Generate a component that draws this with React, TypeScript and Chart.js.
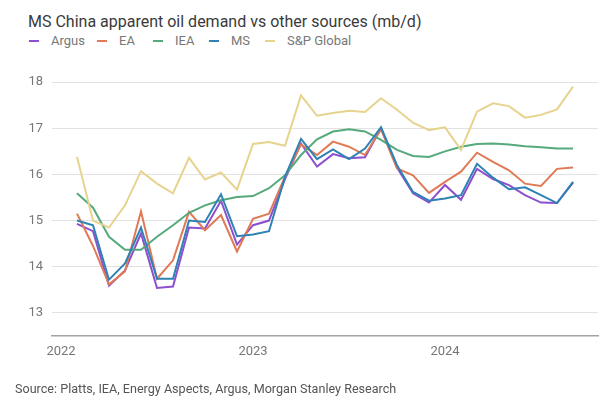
import React, { useEffect, useRef } from 'react';
import { Chart, registerables } from 'chart.js';

Chart.register(...registerables);

// Monthly observations (year-month)
const months = [
  '2022-02', '2022-03', '2022-04', '2022-05', '2022-06', '2022-07', '2022-08', '2022-09',
  '2022-10', '2022-11', '2022-12', '2023-01', '2023-02', '2023-03', '2023-04', '2023-05',
  '2023-06', '2023-07', '2023-08', '2023-09', '2023-10', '2023-11', '2023-12', '2024-01',
  '2024-02', '2024-03', '2024-04', '2024-05', '2024-06', '2024-07', '2024-08', '2024-09',
];

const argus = [
  14.93, 14.77, 13.59, 13.92, 14.72, 13.54, 13.57, 14.85,
  14.83, 15.43, 14.48, 14.9, 15.0, 15.9, 16.67, 16.17,
  16.44, 16.35, 16.37, 17.0, 16.15, 15.59, 15.39, 15.77,
  15.45, 16.12, 15.9, 15.77, 15.55, 15.39, 15.38, 15.82,
];

const ea = [
  15.15, 14.45, 13.62, 13.9, 15.2, 13.74, 14.14, 15.19,
  14.79, 15.12, 14.33, 15.04, 15.15, 15.95, 16.65, 16.42,
  16.71, 16.6, 16.42, 16.98, 16.13, 15.98, 15.6, 15.84,
  16.06, 16.47, 16.27, 16.09, 15.8, 15.75, 16.12, 16.15,
];

const iea = [
  15.59, 15.28, 14.65, 14.37, 14.37, 14.65, 14.9, 15.17,
  15.33, 15.44, 15.51, 15.53, 15.7, 15.98, 16.42, 16.76,
  16.93, 16.98, 16.93, 16.75, 16.53, 16.4, 16.38, 16.5,
  16.6, 16.66, 16.67, 16.65, 16.61, 16.59, 16.56, 16.56,
];

const ms = [
  15.0, 14.9, 13.72, 14.07, 14.85, 13.74, 13.74, 15.0,
  14.97, 15.57, 14.66, 14.7, 14.77, 15.95, 16.77, 16.33,
  16.54, 16.33, 16.56, 17.02, 16.2, 15.62, 15.43, 15.48,
  15.55, 16.23, 15.93, 15.68, 15.72, 15.55, 15.38, 15.84,
];

const spGlobal = [
  16.38, 15.0, 14.85, 15.33, 16.07, 15.8, 15.59, 16.36,
  15.89, 16.04, 15.67, 16.66, 16.7, 16.62, 17.71, 17.27,
  17.33, 17.38, 17.35, 17.65, 17.4, 17.12, 16.96, 17.02,
  16.53, 17.36, 17.54, 17.48, 17.23, 17.29, 17.41, 17.9,
];

const seriesNames = ['Argus', 'EA', 'IEA', 'MS', 'S&P Global'];
const seriesColors = ['#8e4fcf', '#e07a56', '#55a97c', '#2e82b4', '#e6d38e'];
const yearTickLabels = ['2022', '2023', '2024'];
const yTickValues = [13, 14, 15, 16, 17, 18];

const TITLE = 'MS China apparent oil demand vs other sources (mb/d)';
const SOURCE = 'Source: Platts, IEA, Energy Aspects, Argus, Morgan Stanley Research';

const BASE_YEAR = 2022;
const monthPos = (m: string) => {
  const [y, mo] = m.split('-').map(Number);
  return (y - BASE_YEAR) * 12 + (mo - 1);
};

const legendX = [29, 97, 153, 209, 265];

export default function App() {
  const ref = useRef<HTMLCanvasElement>(null);

  useEffect(() => {
    const values = [argus, ea, iea, ms, spGlobal];
    const datasets = values.map((vals, k) => ({
      label: seriesNames[k],
      data: months.map((m, i) => ({ x: monthPos(m), y: vals[i] })),
      borderColor: seriesColors[k],
      backgroundColor: seriesColors[k],
      borderWidth: 2,
      pointRadius: 0,
      pointHoverRadius: 0,
      tension: 0,
      order: values.length - k,
    }));

    const tickFont = { family: 'Roboto', size: 13 };
    const chart = new Chart(ref.current!, {
      type: 'line',
      data: { datasets },
      options: {
        animation: false,
        responsive: false,
        maintainAspectRatio: false,
        layout: { padding: { left: 0, right: 13, top: 59, bottom: 0 } },
        plugins: {
          legend: { display: false },
          title: { display: false },
          tooltip: { enabled: false },
        },
        scales: {
          x: {
            type: 'linear',
            min: -0.5625,
            max: 33.5625,
            grid: { display: false, drawTicks: false },
            border: { display: true, color: '#a3a3a3', width: 1.5 },
            afterBuildTicks: (s: any) => {
              s.ticks = yearTickLabels.map((t) => ({ value: (Number(t) - BASE_YEAR) * 12 }));
            },
            ticks: {
              color: '#777777',
              font: tickFont,
              padding: 8,
              maxRotation: 0,
              autoSkip: false,
              callback: (v: any) => String(BASE_YEAR + Math.round(Number(v) / 12)),
            },
            afterFit: (s: any) => {
              s.height = 80;
            },
          },
          y: {
            min: 12.5,
            max: 18.5,
            afterBuildTicks: (s: any) => {
              s.ticks = yTickValues.map((v) => ({ value: v }));
            },
            grid: { color: '#e2e2e2', lineWidth: 1, drawTicks: false },
            border: { display: false },
            ticks: { color: '#777777', font: tickFont, padding: 9 },
            afterFit: (s: any) => {
              s.width = 52;
            },
          },
        },
      },
    });
    return () => chart.destroy();
  }, []);

  return (
    <div
      style={{
        position: 'absolute',
        left: 0,
        top: 0,
        width: 611,
        height: 416,
        background: '#ffffff',
        fontFamily: 'Roboto, sans-serif',
        overflow: 'hidden',
      }}
    >
      <div
        style={{
          position: 'absolute',
          left: 28,
          top: 14,
          fontSize: 16,
          lineHeight: '16px',
          color: '#3a3a3a',
          whiteSpace: 'nowrap',
        }}
      >
        {TITLE}
      </div>
      {seriesNames.map((name, k) => (
        <div key={name}>
          <div
            style={{
              position: 'absolute',
              left: legendX[k],
              top: 40,
              width: 10,
              height: 2,
              background: seriesColors[k],
            }}
          />
          <div
            style={{
              position: 'absolute',
              left: legendX[k] + 22,
              top: 34,
              fontSize: 13,
              lineHeight: '13px',
              color: '#777777',
              whiteSpace: 'nowrap',
            }}
          >
            {name}
          </div>
        </div>
      ))}
      <canvas
        ref={ref}
        width={611}
        height={416}
        style={{ position: 'absolute', left: 0, top: 0, width: 611, height: 416 }}
      />
      <div
        style={{
          position: 'absolute',
          left: 15,
          top: 382,
          fontSize: 12.6,
          lineHeight: '13px',
          color: '#555555',
          whiteSpace: 'nowrap',
        }}
      >
        {SOURCE}
      </div>
    </div>
  );
}
